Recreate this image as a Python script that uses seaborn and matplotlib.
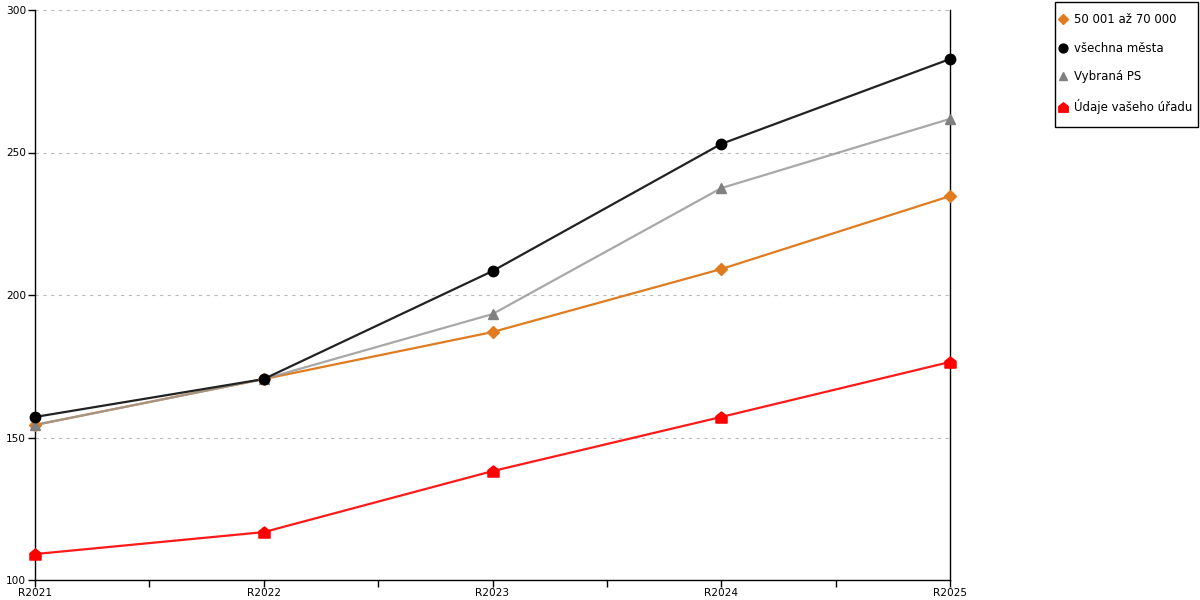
import numpy as np
import pandas as pd
import matplotlib
matplotlib.use("Agg")
import matplotlib.pyplot as plt
from matplotlib.path import Path
from matplotlib.patches import Rectangle
import seaborn as sns

# data
years = ["R2021", "R2022", "R2023", "R2024", "R2025"]
s_50_70 = [154.4, 170.5, 187.0, 209.1, 234.7]
s_all = [157.2, 170.5, 208.4, 253.0, 282.8]
s_ps = [154.4, 170.5, 193.3, 237.5, 261.8]
s_office = [109.1, 116.8, 138.2, 157.2, 176.5]

labels = ["50 001 až 70 000", "všechna města", "Vybraná PS", "Údaje vašeho úřadu"]

sns.set_style("white")
plt.rcParams['font.family'] = ['DejaVu Sans']
plt.rcParams['text.color'] = 'black'
plt.rcParams['xtick.color'] = 'black'
plt.rcParams['ytick.color'] = 'black'

# house-shaped marker
house = Path([(-1, -1), (1, -1), (1, 0.2), (0, 1), (-1, 0.2), (-1, -1)],
             [Path.MOVETO, Path.LINETO, Path.LINETO, Path.LINETO, Path.LINETO, Path.CLOSEPOLY])

fig = plt.figure(figsize=(12, 6), dpi=100)
ax = fig.add_axes([35 / 1200, 20 / 600, 915 / 1200, 570 / 600])

x = np.arange(len(years))
series = [
    (s_50_70, labels[0], "#e07b1f", "#e07b1f", "D", 6, 1.0),
    (s_ps, labels[2], "#999999", "#808080", "^", 7.5, 0.85),
    (s_all, labels[1], "#222222", "#000000", "o", 7.5, 1.0),
    (s_office, labels[3], "#ff1a1a", "#ff0000", house, 8, 1.0),
]
handles = {}
for vals, lab, lc, mc, mk, ms, al in series:
    sns.lineplot(x=x, y=vals, ax=ax, color=lc, linewidth=1.6, alpha=al, legend=False)
    h, = ax.plot(x, vals, linestyle="none", marker=mk, markersize=ms,
                 color=mc, markeredgecolor=mc, label=lab, zorder=5, clip_on=False)
    handles[lab] = h

ax.set_xlim(0, 4)
ax.set_ylim(100, 300)
ax.set_yticks([100, 150, 200, 250, 300])
ax.set_xticks(x)
ax.set_xticklabels(years)
ax.set_xticks([0.5, 1.5, 2.5, 3.5], minor=True)
ax.tick_params(axis="both", which="major", direction="out", length=5, width=1,
               color="black", labelsize=7.6, pad=1.5, bottom=True, left=True)
ax.tick_params(axis="x", which="major", pad=1)
ax.tick_params(axis="x", which="minor", direction="out", length=5, width=1,
               color="black", bottom=True)
ax.yaxis.grid(True, linestyle=(0, (3, 4)), color="#bbbbbb", linewidth=0.8)
ax.xaxis.grid(False)
for side in ["left", "bottom", "right"]:
    ax.spines[side].set_visible(True)
    ax.spines[side].set_color("black")
    ax.spines[side].set_linewidth(1)
ax.spines["top"].set_visible(False)
ax.set_axisbelow(True)

# legend box drawn separately so its size matches the reference
fig.patches.append(Rectangle((1055 / 1200, (600 - 127) / 600), 143 / 1200, 125 / 600,
                             transform=fig.transFigure, fill=False,
                             edgecolor="black", linewidth=1))
leg = fig.legend([handles[l] for l in labels], labels,
                 loc="upper left", bbox_to_anchor=(1059 / 1200, 587 / 600),
                 frameon=False, fontsize=8.5, labelspacing=1.33,
                 handlelength=0.7, handletextpad=0.55, borderpad=0.0,
                 borderaxespad=0, markerscale=0.85)

fig.savefig("out.png", dpi=100)
